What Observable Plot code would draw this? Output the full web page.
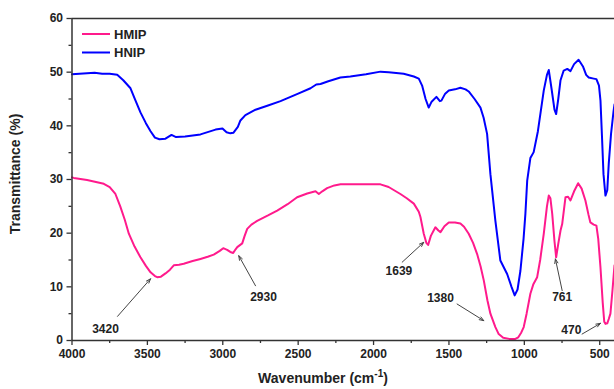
<!DOCTYPE html>
<html>
<head>
<meta charset="utf-8">
<script src="https://cdn.jsdelivr.net/npm/d3@7"></script>
<script src="https://cdn.jsdelivr.net/npm/@observablehq/plot@0.6"></script>
<style>
  html, body { margin: 0; padding: 0; background: #fff; }
  #chart svg { display: block; }
</style>
</head>
<body>
<div id="chart"></div>
<script>
const seriesNames = ["HMIP", "HNIP"];
const seriesColors = ["#ff1a8c", "#0000ff"];

const hmipWavenumber = [4000,3988,3900,3789,3750,3712,3680,3650,3623,3585,3546,3510,3479,3450,3435,3410,3380,3350,3325,3290,3259,3200,3148,3100,3060,3020,2997,2971,2950,2931,2915,2904,2871,2855,2838,2810,2772,2700,2639,2570,2507,2440,2385,2363,2340,2308,2260,2219,2100,1954,1900,1822,1780,1733,1700,1689,1667,1650,1638,1620,1590,1570,1556,1530,1501,1460,1424,1400,1369,1340,1313,1290,1269,1245,1225,1192,1170,1140,1100,1060,1040,1020,1004,985,960,940,915,895,871,850,838,827,815,800,789,775,760,749,727,710,694,670,643,620,595,575,562,540,522,510,495,480,470,462,450,440,429,415,402];
const hmipTransmittance = [30.4,30.3,29.9,29.2,28.6,27.3,25,22.5,19.9,17.5,15.5,13.9,12.7,12,11.8,11.9,12.5,13.2,14.0,14.1,14.3,14.8,15.2,15.6,16.0,16.7,17.2,16.9,16.5,16.3,17.0,17.4,18.1,19.5,20.8,21.6,22.3,23.3,24.2,25.4,26.7,27.4,27.8,27.3,27.8,28.4,28.9,29.1,29.1,29.1,28.6,27.3,26.5,25.5,24,23.0,19.9,18.2,17.8,19.5,21.1,20.5,20.2,21.3,22.0,22.0,21.8,21.2,19.9,18.2,16.1,13.8,11.2,7.5,5.0,2.5,1.2,0.5,0.3,0.3,0.6,1.5,2.5,5,8.7,10.5,11.8,15,19.9,25,27.0,26.5,23.6,18.5,15.5,18,20.5,21.7,26.7,26.8,26.1,27.8,29.3,28.3,26.1,23.5,22.0,21.6,21.4,19,13.6,7,3.5,3.1,3.2,4,5.0,9.5,14];

const hnipWavenumber = [4000,3950,3900,3850,3800,3750,3700,3660,3612,3580,3546,3510,3479,3450,3420,3380,3340,3310,3250,3148,3048,3002,2975,2950,2930,2900,2883,2850,2783,2700,2617,2500,2418,2380,2352,2300,2220,2154,2050,1954,1900,1800,1733,1700,1678,1655,1634,1615,1583,1560,1550,1525,1501,1460,1424,1390,1369,1330,1291,1270,1247,1225,1192,1159,1114,1085,1064,1045,1026,1005,993,981,960,938,910,871,850,838,820,800,789,775,760,739,715,694,670,640,610,590,573,540,522,505,495,485,475,462,450,440,425,408,402];
const hnipTransmittance = [49.6,49.7,49.8,49.9,49.7,49.7,49.5,48.5,47,44.8,42.5,40.5,39,37.8,37.5,37.6,38.3,37.9,38,38.4,39.3,39.5,38.8,38.6,38.7,39.8,41,42,43,43.8,44.6,46,47,47.7,47.8,48.3,49,49.2,49.6,50.1,50,49.7,49.2,48.8,47.5,45,43.4,44.5,45.4,44.6,44.7,46,46.6,46.8,47.1,46.8,46.4,45,43.4,41.5,38.5,31,22.3,14.9,12.4,10,8.4,9.5,13,19,23.6,29.8,34,35.1,39,46.6,49.5,50.4,47,43,42.2,45,48.5,50.3,50.6,50.2,51.5,52.3,51,49.5,49,48.8,48.7,47.5,44.7,38,31,27.0,28,33,38.5,42.8,44];

const peakLabels = ["3420", "2930", "1639", "1380", "761", "470"];
const labelX = [3778, 2730, 1832, 1556, 749, 688];
const labelY = [2.2, 8.0, 13.0, 7.8, 8.0, 1.9];
const arrowX1 = [3698, 2783, 1810, 1446, 749, 617];
const arrowY1 = [4.5, 10.2, 14.6, 6.8, 9.3, 1.2];
const arrowX2 = [3479, 2894, 1667, 1269, 794, 495];
const arrowY2 = [11.5, 15.8, 18.3, 3.7, 15.2, 3.2];

const xMajorTicks = [4000, 3500, 3000, 2500, 2000, 1500, 1000, 500];
const xMinorTicks = [3750, 3250, 2750, 2250, 1750, 1250, 750];
const yMajorTicks = [0, 10, 20, 30, 40, 50, 60];
const yMinorTicks = [5, 15, 25, 35, 45, 55];

const lineData = [
  ...hmipWavenumber.map((w, i) => ({series: seriesNames[0], w, t: hmipTransmittance[i]})),
  ...hnipWavenumber.map((w, i) => ({series: seriesNames[1], w, t: hnipTransmittance[i]}))
];
const annotations = peakLabels.map((label, i) => ({
  label, lx: labelX[i], ly: labelY[i],
  x1: arrowX1[i], y1: arrowY1[i], x2: arrowX2[i], y2: arrowY2[i]
}));

const W = 614, H = 389;
const mL = 71.5, mR = 0, mT = 18, mB = 49;
const axisColor = "#333";
const fontFam = "'Liberation Sans', Arial, sans-serif";

const chart = Plot.plot({
  width: W, height: H,
  marginLeft: mL, marginRight: mR, marginTop: mT, marginBottom: mB,
  style: {fontFamily: fontFam, fontSize: "12px", fontWeight: "bold", color: "#222", background: "#fff"},
  x: {domain: [4000, 402], label: null},
  y: {domain: [0, 60], label: null},
  color: {domain: seriesNames, range: seriesColors},
  marks: [
    Plot.line(lineData, {x: "w", y: "t", z: "series", stroke: "series", strokeWidth: 2, curve: "linear"}),
    Plot.arrow(annotations, {x1: "x1", y1: "y1", x2: "x2", y2: "y2", stroke: "#444", strokeWidth: 1, headLength: 7, headAngle: 40}),
    Plot.text(annotations, {x: "lx", y: "ly", text: "label", fill: "#222", fontSize: 12, fontWeight: "bold"}),
    Plot.ruleY([0, 60], {stroke: axisColor, strokeWidth: 1.5}),
    Plot.ruleX([4000], {stroke: axisColor, strokeWidth: 1.5}),
    Plot.axisX(xMajorTicks, {tickSize: 5, tickPadding: 4, tickFormat: d => String(d), stroke: axisColor, strokeWidth: 1.3, fontSize: 12, fontWeight: "bold", fill: "#222", label: null}),
    Plot.axisX(xMinorTicks, {tickSize: 3, tickFormat: () => "", stroke: axisColor, strokeWidth: 1.3, label: null}),
    Plot.axisY(yMajorTicks, {tickSize: 5, tickPadding: 4, tickFormat: d => String(d), stroke: axisColor, strokeWidth: 1.3, fontSize: 12, fontWeight: "bold", fill: "#222", label: null}),
    Plot.axisY(yMinorTicks, {tickSize: 3, tickFormat: () => "", stroke: axisColor, strokeWidth: 1.3, label: null})
  ]
});

document.getElementById("chart").appendChild(chart);

const svg = d3.select(chart);
// Axis titles
const xt = svg.append("text")
  .attr("x", 323).attr("y", 383)
  .attr("text-anchor", "middle")
  .attr("font-family", fontFam)
  .attr("font-weight", "bold").attr("font-size", 14).attr("fill", "#222");
xt.append("tspan").text("Wavenumber (cm");
xt.append("tspan").attr("font-size", 10).attr("dy", -6).text("-1");
xt.append("tspan").attr("dy", 6).text(")");

svg.append("text")
  .attr("transform", "translate(20,174) rotate(-90)")
  .attr("text-anchor", "middle")
  .attr("font-family", fontFam)
  .attr("font-weight", "bold").attr("font-size", 14).attr("fill", "#222")
  .text("Transmittance (%)");

// Legend
seriesNames.forEach((name, i) => {
  const y = 34 + i * 18.5;
  svg.append("line").attr("x1", 82).attr("x2", 110).attr("y1", y).attr("y2", y)
    .attr("stroke", seriesColors[i]).attr("stroke-width", 2);
  svg.append("text").attr("x", 114).attr("y", y).attr("dy", "0.35em")
    .attr("text-anchor", "start")
    .attr("font-family", fontFam)
    .attr("font-weight", "bold").attr("font-size", 13).attr("fill", "#222")
    .text(name);
});
</script>
</body>
</html>
